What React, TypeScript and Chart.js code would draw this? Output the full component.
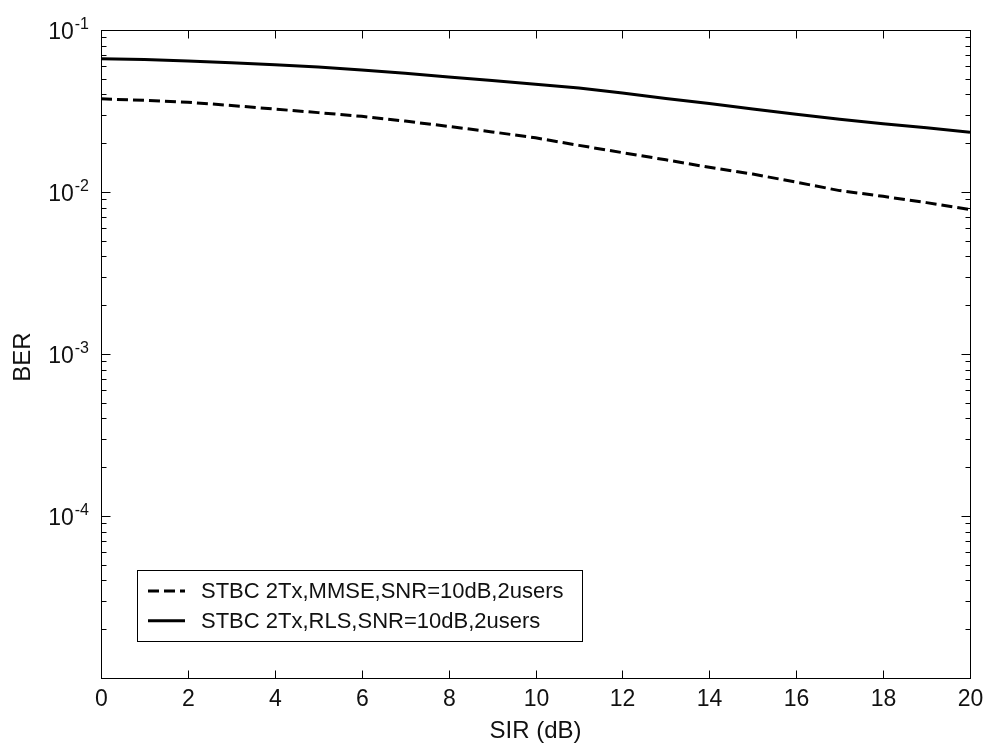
import { useEffect, useRef } from 'react';
import { Chart, registerables } from 'chart.js';

Chart.register(...registerables);

const sirValues = [0, 1, 2, 3, 4, 5, 6, 7, 8, 9, 10, 11, 12, 13, 14, 15, 16, 17, 18, 19, 20];
const mmseBer = [0.0376, 0.0368, 0.0358, 0.0342, 0.0325, 0.0309, 0.0293, 0.0274, 0.0254, 0.0235, 0.0216, 0.0194, 0.0175, 0.0158, 0.0142, 0.0129, 0.0115, 0.0102, 0.0094, 0.0086, 0.0078];
const rlsBer = [0.0665, 0.0658, 0.0643, 0.0628, 0.0610, 0.0590, 0.0567, 0.0540, 0.0512, 0.0488, 0.0463, 0.0438, 0.0408, 0.0378, 0.0352, 0.0325, 0.0302, 0.0281, 0.0264, 0.0249, 0.0234];
const seriesLabels = ['STBC 2Tx,MMSE,SNR=10dB,2users', 'STBC 2Tx,RLS,SNR=10dB,2users'];
const xTickValues = [0, 2, 4, 6, 8, 10, 12, 14, 16, 18, 20];
const yLabelExponents = [-1, -2, -3, -4];
const yDecadeExponents = [-5, -4, -3, -2];
const xMin = 0;
const xMax = 20;
const yMin = 1e-5;
const yMax = 1e-1;
const xTitle = 'SIR (dB)';
const yTitle = 'BER';

const FONT = '"Liberation Sans", Arial, sans-serif';

const axesPlugin = {
  id: 'matlabAxes',
  beforeDraw(chart: any) {
    const ctx = chart.ctx;
    ctx.save();
    ctx.fillStyle = '#ffffff';
    ctx.fillRect(0, 0, chart.width, chart.height);
    ctx.restore();
  },
  afterDraw(chart: any) {
    const ctx = chart.ctx;
    const { left, right, top, bottom } = chart.chartArea;
    const xs = chart.scales.x;
    const ys = chart.scales.y;
    ctx.save();
    ctx.strokeStyle = '#000';
    ctx.lineWidth = 1;
    const L = Math.round(left) + 0.5;
    const R = Math.round(right) + 0.5;
    const T = Math.round(top) + 0.5;
    const B = Math.round(bottom) + 0.5;
    ctx.strokeRect(L, T, R - L, B - T);

    // x ticks
    ctx.fillStyle = '#111';
    ctx.font = `23px ${FONT}`;
    ctx.textAlign = 'center';
    ctx.textBaseline = 'middle';
    xTickValues.forEach((v) => {
      const px = Math.round(xs.getPixelForValue(v)) + 0.5;
      ctx.beginPath();
      ctx.moveTo(px, B);
      ctx.lineTo(px, B - 8);
      ctx.moveTo(px, T);
      ctx.lineTo(px, T + 8);
      ctx.stroke();
      ctx.fillText(String(v), px, B + 21);
    });

    // y ticks (major + minor)
    yDecadeExponents.forEach((e) => {
      for (let m = 1; m <= 9; m++) {
        const v = m * Math.pow(10, e);
        if (v < yMin || v > yMax) continue;
        const py = Math.round(ys.getPixelForValue(v)) + 0.5;
        const len = m === 1 ? 9 : 5;
        ctx.beginPath();
        ctx.moveTo(L, py);
        ctx.lineTo(L + len, py);
        ctx.moveTo(R, py);
        ctx.lineTo(R - len, py);
        ctx.stroke();
      }
    });

    // y labels 10^e
    yLabelExponents.forEach((e) => {
      const py = ys.getPixelForValue(Math.pow(10, e));
      const sup = String(e);
      ctx.font = `23px ${FONT}`;
      const wBase = ctx.measureText('10').width;
      ctx.font = `16px ${FONT}`;
      const wSup = ctx.measureText(sup).width;
      const rightEdge = left - 12;
      const x0 = rightEdge - wSup - 1 - wBase;
      ctx.textAlign = 'left';
      ctx.textBaseline = 'alphabetic';
      ctx.font = `23px ${FONT}`;
      ctx.fillText('10', x0, py + 9);
      ctx.font = `16px ${FONT}`;
      ctx.fillText(sup, x0 + wBase + 1, py - 1);
    });

    // titles
    ctx.font = `24px ${FONT}`;
    ctx.textAlign = 'center';
    ctx.textBaseline = 'middle';
    ctx.fillText(xTitle, (left + right) / 2, B + 53);
    ctx.save();
    ctx.translate(23, (top + bottom) / 2 + 3);
    ctx.rotate(-Math.PI / 2);
    ctx.fillText(yTitle, 0, 0);
    ctx.restore();

    // legend
    const lx = left + 36;
    const ly = top + 540;
    const lw = 445;
    const lh = 71;
    ctx.fillStyle = '#fff';
    ctx.fillRect(Math.round(lx) + 0.5, Math.round(ly) + 0.5, lw, lh);
    ctx.strokeRect(Math.round(lx) + 0.5, Math.round(ly) + 0.5, lw, lh);
    ctx.font = `22px ${FONT}`;
    ctx.textAlign = 'left';
    ctx.textBaseline = 'middle';
    chart.data.datasets.forEach((ds: any, i: number) => {
      const rowY = ly + 21 + i * 29.7;
      ctx.save();
      ctx.strokeStyle = ds.borderColor;
      ctx.lineWidth = ds.borderWidth;
      ctx.setLineDash(ds.borderDash || []);
      ctx.beginPath();
      ctx.moveTo(lx + 11, rowY);
      ctx.lineTo(lx + 48, rowY);
      ctx.stroke();
      ctx.restore();
      ctx.fillStyle = '#111';
      ctx.fillText(ds.label, lx + 64, rowY + 1);
    });
    ctx.restore();
  },
};

export default function App() {
  const canvasRef = useRef<HTMLCanvasElement | null>(null);

  useEffect(() => {
    const canvas = canvasRef.current;
    if (!canvas) return;
    const chart = new Chart(canvas, {
      type: 'line',
      data: {
        datasets: [
          {
            label: seriesLabels[0],
            data: sirValues.map((x, i) => ({ x, y: mmseBer[i] })),
            borderColor: '#000000',
            borderWidth: 3,
            borderDash: [11, 5],
            pointRadius: 0,
            tension: 0,
            fill: false,
          },
          {
            label: seriesLabels[1],
            data: sirValues.map((x, i) => ({ x, y: rlsBer[i] })),
            borderColor: '#000000',
            borderWidth: 3,
            pointRadius: 0,
            tension: 0,
            fill: false,
          },
        ],
      },
      options: {
        animation: false,
        responsive: false,
        maintainAspectRatio: false,
        devicePixelRatio: 1,
        layout: { padding: { left: 101, top: 30, right: 16, bottom: 69 } },
        scales: {
          x: { type: 'linear', min: xMin, max: xMax, display: false },
          y: { type: 'logarithmic', min: yMin, max: yMax, display: false },
        },
        plugins: {
          legend: { display: false },
          tooltip: { enabled: false },
        },
      },
      plugins: [axesPlugin],
    } as any);
    return () => chart.destroy();
  }, []);

  return (
    <div style={{ position: 'fixed', left: 0, top: 0, width: 986, height: 747, background: '#fff' }}>
      <canvas ref={canvasRef} width={986} height={747} style={{ width: 986, height: 747, display: 'block' }} />
    </div>
  );
}
